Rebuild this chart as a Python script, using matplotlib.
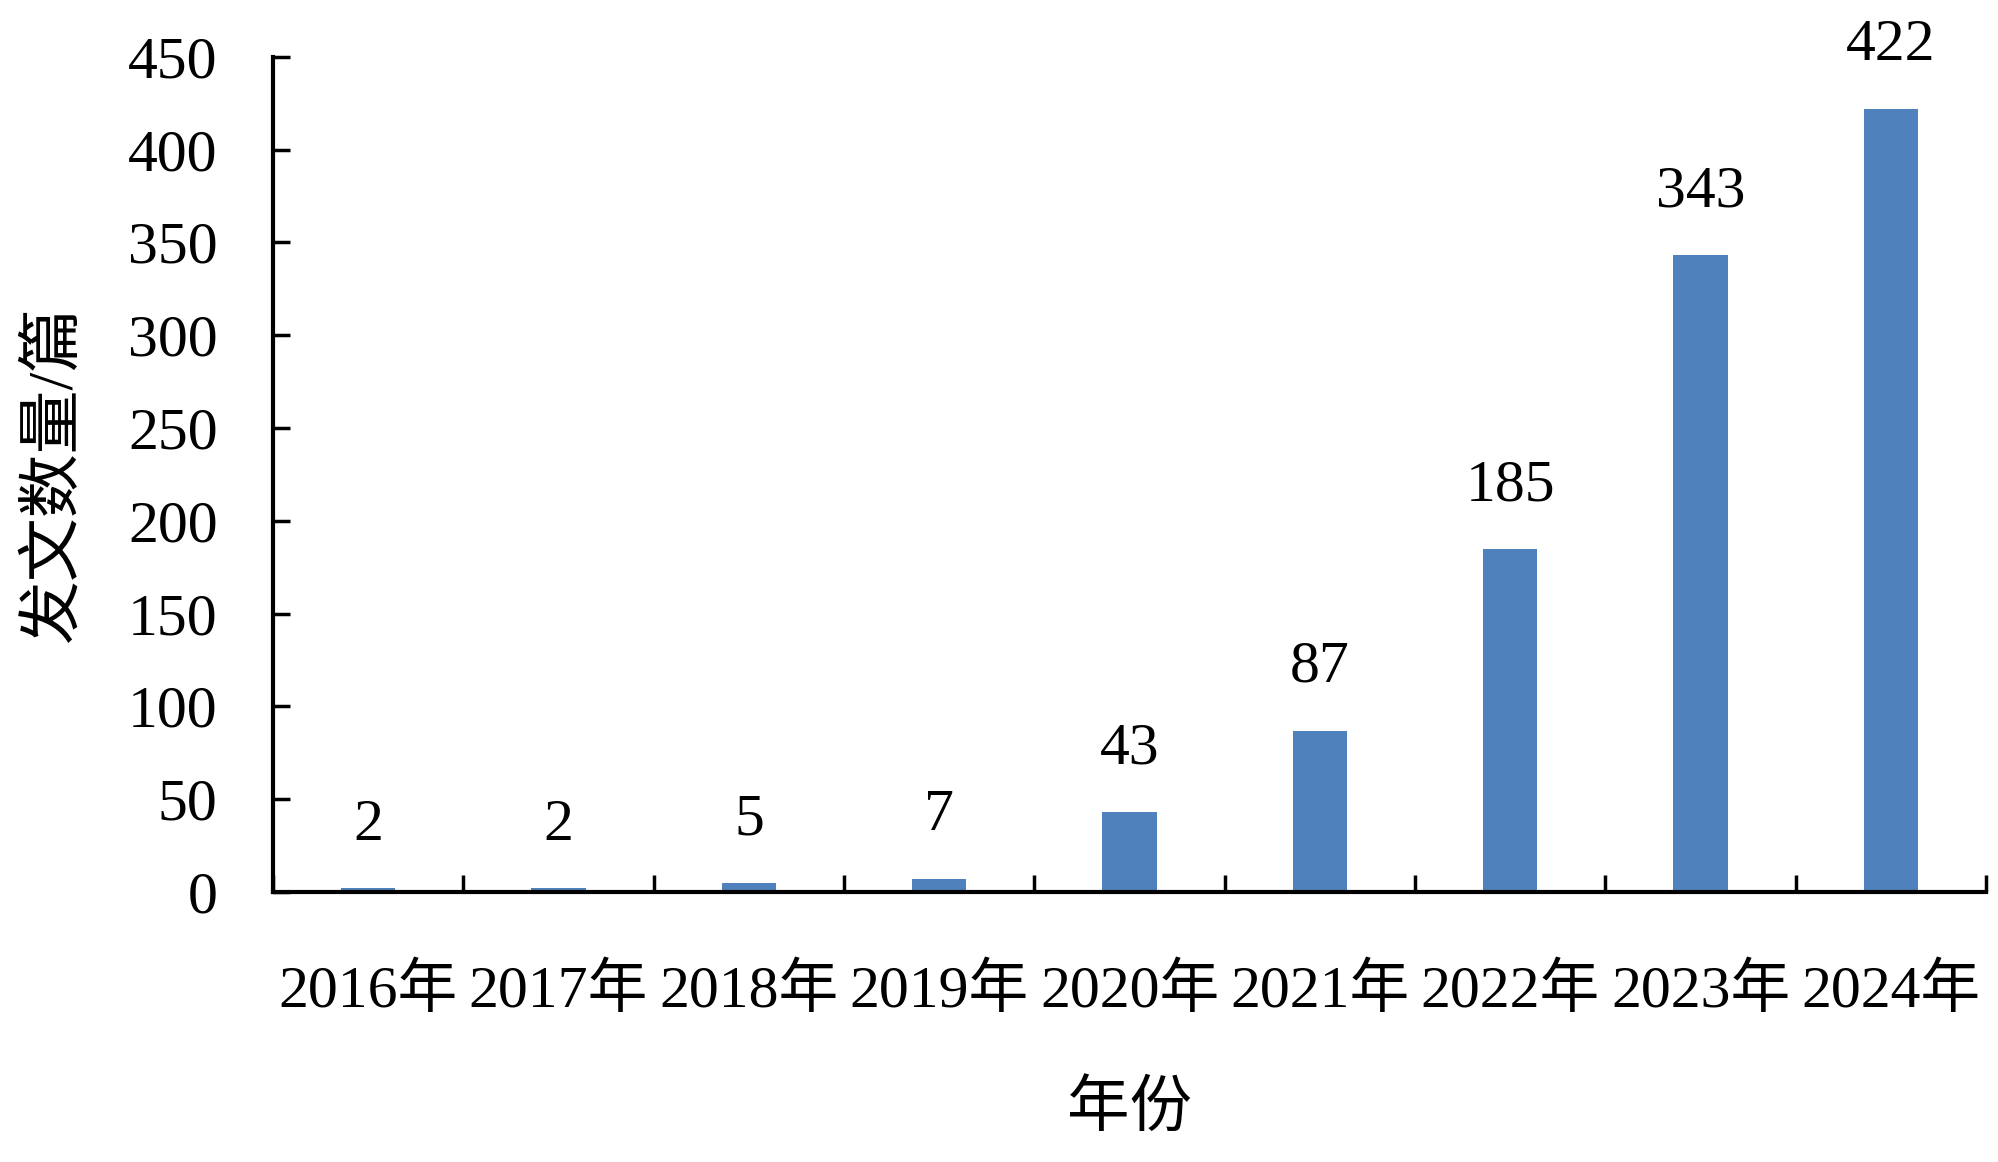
import matplotlib.pyplot as plt
import numpy as np

plt.rcParams['font.family'] = ['Liberation Serif', 'Noto Sans CJK SC']

years = ['2016年', '2017年', '2018年', '2019年', '2020年', '2021年', '2022年', '2023年', '2024年']
counts = [2, 2, 5, 7, 43, 87, 185, 343, 422]
y_ticks = [0, 50, 100, 150, 200, 250, 300, 350, 400, 450]

fig = plt.figure(figsize=(19.99, 11.62), dpi=100)
ax = fig.add_axes([0.1366, 0.2324, 0.8569, 0.7186])

x = np.arange(len(years))
ax.bar(x, counts, width=0.286, color='#4F81BD')

# value labels above bars
for xi, v in zip(x, counts):
    ax.annotate(str(v), (xi, v), xytext=(0, 35), textcoords='offset points',
                ha='center', va='baseline', fontsize=43)

ax.set_xlim(-0.5, len(years) - 0.5)
ax.set_ylim(0, 450)
ax.set_yticks(y_ticks)
ax.tick_params(axis='y', direction='in', length=12, width=2.5, labelsize=43, pad=40)

# ticks sit between categories, labels in the middle
ax.set_xticks(np.arange(len(years) + 1) - 0.5)
ax.set_xticklabels([])
ax.set_xticks(x, minor=True)
ax.set_xticklabels(years, minor=True, fontsize=43)
ax.tick_params(axis='x', which='major', direction='in', length=12, width=2.5)
ax.tick_params(axis='x', which='minor', length=0, pad=52)

for s in ['top', 'right']:
    ax.spines[s].set_visible(False)
for s in ['left', 'bottom']:
    ax.spines[s].set_linewidth(3)

ax.set_xlabel('年份', fontsize=45, labelpad=45)
ax.set_ylabel('发文数量/篇', fontsize=46)
ax.yaxis.set_label_coords(-0.11, 0.5)

fig.savefig('out.png', dpi=100)
